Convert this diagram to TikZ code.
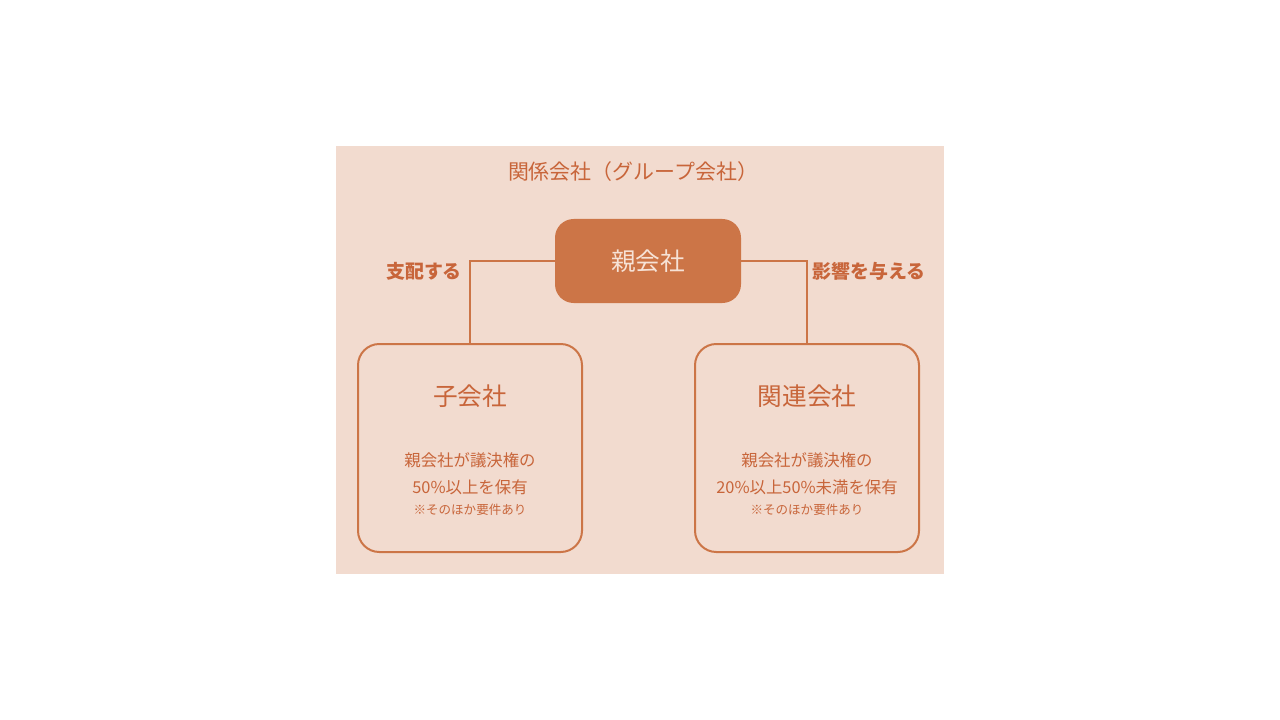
\documentclass[tikz,border=0pt]{standalone}
\usepackage{fontspec}
\setmainfont{Noto Sans CJK JP}
\usetikzlibrary{positioning}
\definecolor{peach}{HTML}{F2DBCF}
\definecolor{rust}{HTML}{CC7547}
\definecolor{rusttext}{HTML}{C8653A}
\definecolor{paletext}{HTML}{F6E2D6}
\begin{document}
\begin{tikzpicture}
[x=0.75pt,y=-0.75pt,
  parentdecorate/.style={shape=rectangle,rounded corners=14pt,fill=rust,
    minimum width=139.5pt,minimum height=63pt,text=paletext,font=\fontsize{18.5}{20}\selectfont},
  childdecorate/.style={shape=rectangle,rounded corners=16pt,draw=rust,line width=1.5pt,
    minimum width=168pt,minimum height=156pt},
  linedecorate/.style={-,draw=rust,line width=1.4pt},
  labeldecorate/.style={text=rusttext,font=\bfseries\fontsize{14.2}{16}\selectfont},
  textdecorate/.style={text=rusttext,inner sep=0pt}]
%% background and frame
\useasboundingbox (0,0) rectangle (1280,720);
\fill[peach] (336,146) rectangle (944,574);
\node (title) at (633,172) [textdecorate,font=\fontsize{15.7}{18}\selectfont] {関係会社（グループ会社）};
%% parent
\node (parent) at (648,261) [parentdecorate] {親会社};
%% children
\foreach \nodename/\x/\name/\share in {
  child/470/子会社/50\%以上を保有,
  assoc/807/関連会社/20\%以上50\%未満を保有}
{
  \node (\nodename) at (\x,448) [childdecorate] {};
  \node (\nodename-name) at (\x,396) [textdecorate,font=\fontsize{18.5}{20}\selectfont] {\name};
  \node (\nodename-vote) at (\x,460) [textdecorate,font=\fontsize{12.3}{14}\selectfont] {親会社が議決権の};
  \node (\nodename-share) at (\x,487) [textdecorate,font=\fontsize{12.3}{14}\selectfont] {\share};
  \node (\nodename-note) at (\x,510) [textdecorate,font=\fontsize{9.4}{11}\selectfont] {※そのほか要件あり};
}
%% edges
\draw[linedecorate] (parent.west) -| (child.north);
\draw[linedecorate] (parent.east) -| (assoc.north);
\node (control) at (424,271) [labeldecorate] {支配する};
\node (influence) at (869,271) [labeldecorate] {影響を与える};
\end{tikzpicture}
\end{document}
